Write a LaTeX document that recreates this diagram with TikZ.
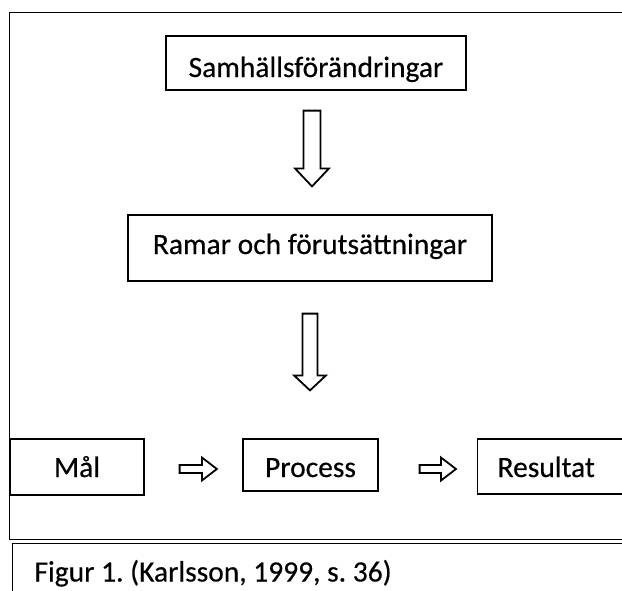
\documentclass[tikz,border=0pt]{standalone}
\usepackage{fontspec}
\setmainfont{Carlito}[FakeBold=0.4]
\usetikzlibrary{calc}

\tikzset{
  box/.style={draw, line width=1.2pt, inner sep=0pt, font=\fontsize{29.5}{35}\selectfont},
  % hollow block arrow: #1 half shaft, #2 half head, #3 head length
  blockarrow/.style n args={3}{line width=1.8pt, line join=miter, to path={
    let \p1=($(\tikztotarget)!#3!(\tikztostart)$) in
    ($(\tikztostart)!#1!90:(\tikztotarget)$) -- ($(\p1)!#1!-90:(\tikztostart)$)
    -- ($(\p1)!#2!-90:(\tikztostart)$) -- (\tikztotarget)
    -- ($(\p1)!#2!90:(\tikztostart)$) -- ($(\p1)!#1!90:(\tikztostart)$)
    -- ($(\tikztostart)!#1!-90:(\tikztotarget)$) -- cycle}},
}

\begin{document}
\frenchspacing
\begin{tikzpicture}[x=1pt,y=-1pt]
  \useasboundingbox (0,0) rectangle (622,590);
  \clip (0,0) rectangle (622,590);

  % frame round the figure
  \draw[line width=1pt] (9,12) rectangle (640,539);

  % top of the chain
  \node (samh) at (316,63) [box, minimum width=300pt, text height=41pt, text depth=13pt] {Samhällsförändringar};
  \node (ramar) at (310,248) [box, minimum width=364pt, text height=39pt, text depth=27pt] {Ramar och förutsättningar};

  % bottom row
  \node (mal) at (77,467) [box, minimum width=134pt, text height=38pt, text depth=18pt] {Mål};
  \node (process) at (310.5,465) [box, minimum width=135pt, text height=38pt, text depth=14pt] {Process};
  \node (resultat) at (477,466.5) [box, anchor=west, text width=200pt, inner xsep=20pt, text height=38pt, text depth=17pt, align=flush left] {Resultat};

  % caption
  \node (caption) at (12,543) [box, anchor=north west, line width=1pt, text width=600pt, inner xsep=22pt, text height=38pt, text depth=32pt, align=flush left] {Figur 1. (Karlsson, 1999, s. 36)};

  % arrows
  \draw[blockarrow={8.5pt}{17pt}{18pt}] ($(ramar.north |- samh.south)+(2,20)$) to ($(ramar.north)+(2,-28)$);
  \draw[blockarrow={7.5pt}{16pt}{15pt}] ($(ramar.south)+(0,32)$) to ($(ramar.south |- process.north)+(0,-48)$);
  \draw[blockarrow={4pt}{11.5pt}{15pt}] ($(mal.east)+(35,2)$) to ($(mal.east -| process.west)+(-25.5,2)$);
  \draw[blockarrow={4pt}{11.5pt}{15pt}] ($(process.east)+(41,4)$) to ($(process.east -| resultat.west)+(-21,4)$);
\end{tikzpicture}
\end{document}
